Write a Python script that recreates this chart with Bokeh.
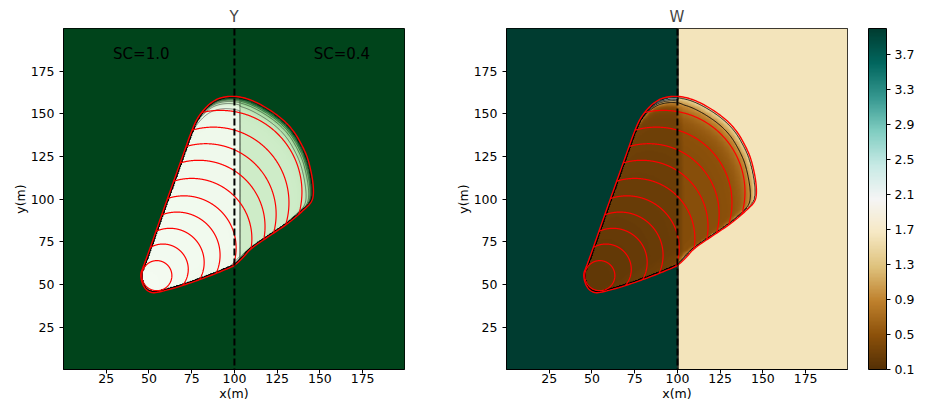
import numpy as np
from bokeh.plotting import figure
from bokeh.layouts import row
from bokeh.models import (LinearColorMapper, ColorBar, FixedTicker, Span, Label,
                          ColumnDataSource, Range1d, PrintfTickFormatter)
from bokeh.core.properties import value
from bokeh.embed import file_html
from bokeh.resources import INLINE

# ---------------- data ----------------
axis_ticks = [25, 50, 75, 100, 125, 150, 175]
cbar_ticks = [0.1, 0.5, 0.9, 1.3, 1.7, 2.1, 2.5, 2.9, 3.3, 3.7]
x_lim = (0.0, 199.5)
y_lim = (0.4, 199.9)
split_x = 100.0

# final fire perimeter (red outline), counter-clockwise
perim_x = [45.0, 45.6, 47.5, 50.5, 54.0, 68.4, 84.0, 97.6, 100.5, 105.4, 109.3, 121.0,
           132.7, 142.0, 145.3, 146.4, 145.9, 143.4, 140.2, 134.6, 127.0, 117.1, 108.0,
           99.5, 92.0, 86.5, 81.1, 76.4, 69.5, 62.1, 55.9, 49.8, 46.7]
perim_y = [56.5, 52.0, 47.8, 45.6, 45.1, 49.0, 54.5, 60.0, 61.5, 66.2, 71.0, 78.9,
           86.7, 95.0, 98.5, 103.0, 111.1, 122.8, 130.5, 140.3, 148.0, 154.6, 158.9,
           160.5, 159.6, 156.8, 151.5, 144.2, 124.7, 104.0, 86.5, 69.0, 60.5]

# red isochrones: circular fronts (centre, radius), clipped to the burnt area
iso_cx = [54.6, 58.2, 62.3, 66.4, 70.5, 75.0, 79.1, 83.2, 87.7, 91.8]
iso_cy = [55.3, 59.0, 63.0, 67.3, 71.5, 77.0, 84.0, 91.3, 98.0, 104.3]
iso_r = [8.8, 14.8, 20.0, 25.2, 30.5, 35.2, 38.8, 41.2, 44.2, 47.7]
ignition = (47.0, 50.0)
# apex of the two flanks (used for the age of the burnt cells near the final front)
apex = (41.2, 40.7)

sc_text = ["SC=1.0", "SC=0.4"]
sc_x = [45.5, 162.9]
sc_y = [185.0, 185.0]

# Y field values
Y_unburnt = 1.0
Y_resid_left = (0.02, 0.07)
Y_resid_right = 0.22
Y_split_x = 103.0
Y_levels = [0.1, 0.2, 0.3, 0.4, 0.5, 0.6, 0.7, 0.8, 0.9]

# W field values
W_unburnt_left = 4.0
W_unburnt_right = 1.62
W_resid_left = (0.18, 0.32)
W_resid_right = 0.45
W_levels = [1.0, 1.45, 2.0, 3.0]
W_lim = (0.1, 4.0)

greens = ['#f7fcf5', '#e5f5e0', '#c7e9c0', '#a1d99b', '#74c476', '#41ab5d', '#238b45', '#006d2c', '#00441b']
brbg = ['#543005', '#8c510a', '#bf812d', '#dfc27d', '#f6e8c3', '#f5f5f5', '#c7eae5', '#80cdc1',
        '#35978f', '#01665e', '#003c30']

FONT = "DejaVu Sans"
TAU_Y = 0.018
TAU_W = 0.045
INSET = 0.6


# ---------------- helpers ----------------
def interp_palette(hexes, n=256):
    rgb = np.array([[int(h[i:i + 2], 16) for i in (1, 3, 5)] for h in hexes], float)
    pos = np.linspace(0, 1, len(hexes))
    t = np.linspace(0, 1, n)
    out = np.stack([np.interp(t, pos, rgb[:, c]) for c in range(3)], 1)
    return ["#%02x%02x%02x" % tuple(int(round(v)) for v in c) for c in out]


def chaikin_closed(x, y, it=2):
    P = np.column_stack([x, y]).astype(float)
    for _ in range(it):
        N = np.roll(P, -1, 0)
        Q = 0.75 * P + 0.25 * N
        R = 0.25 * P + 0.75 * N
        P2 = np.empty((2 * len(P), 2))
        P2[0::2] = Q
        P2[1::2] = R
        P = P2
    return P[:, 0], P[:, 1]


def point_in_poly(px, py, vx, vy):
    inside = np.zeros(px.shape, bool)
    n = len(vx)
    j = n - 1
    for i in range(n):
        xi, yi, xj, yj = vx[i], vy[i], vx[j], vy[j]
        cond = (yi > py) != (yj > py)
        xint = (xj - xi) * (py - yi) / ((yj - yi) if yj != yi else 1e-12) + xi
        inside ^= cond & (px < xint)
        j = i
    return inside


def dist_to_poly(px, py, vx, vy):
    d = np.full(px.shape, np.inf)
    n = len(vx)
    for i in range(n):
        ax, ay = vx[i - 1], vy[i - 1]
        bx, by = vx[i], vy[i]
        dx, dy = bx - ax, by - ay
        t = np.clip(((px - ax) * dx + (py - ay) * dy) / (dx * dx + dy * dy), 0, 1)
        d = np.minimum(d, np.hypot(px - ax - t * dx, py - ay - t * dy))
    return d


def exit_radius(vx, vy, o, n=6001):
    phis = np.linspace(-np.pi, np.pi, n)
    dx = np.cos(phis)[:, None]
    dy = np.sin(phis)[:, None]
    ax = np.asarray(vx)[None, :]
    ay = np.asarray(vy)[None, :]
    ex = np.roll(vx, -1)[None, :] - ax
    ey = np.roll(vy, -1)[None, :] - ay
    den = dx * ey - dy * ex
    den = np.where(np.abs(den) < 1e-12, 1e-12, den)
    wx = ax - o[0]
    wy = ay - o[1]
    t = (wx * ey - wy * ex) / den
    u = (wx * dy - wy * dx) / den
    ok = (u >= 0) & (u <= 1) & (t > 0)
    Rmax = np.where(ok, t, -1.0).max(axis=1)
    Rmax[Rmax <= 0] = np.nan
    return phis, Rmax


def front_arcs(cx, cy, r, vx, vy, origin):
    th = np.linspace(0, 2 * np.pi, 1441)[:-1]
    ax = cx + r * np.cos(th)
    ay = cy + r * np.sin(th)
    keep = point_in_poly(ax, ay, vx, vy)
    if keep.mean() < 0.9:
        ux, uy = cx - origin[0], cy - origin[1]
        nrm = np.hypot(ux, uy)
        keep &= ((ax - cx) * ux + (ay - cy) * uy) / nrm >= 0
    if keep.all():
        return [list(np.append(ax, ax[0]))], [list(np.append(ay, ay[0]))]
    k = int(np.argmin(keep))
    ax, ay, keep = np.roll(ax, -k), np.roll(ay, -k), np.roll(keep, -k)
    xs, ys = [], []
    i, n = 0, len(keep)
    while i < n:
        if keep[i]:
            j = i
            while j < n and keep[j]:
                j += 1
            if j - i > 1:
                xs.append(list(ax[i:j]))
                ys.append(list(ay[i:j]))
            i = j
        else:
            i += 1
    return xs, ys


# ---------------- fields ----------------
sx, sy = chaikin_closed(perim_x, perim_y, 3)

nx = ny = 400
dw = x_lim[1] - x_lim[0]
dh = y_lim[1] - y_lim[0]
gx = x_lim[0] + (np.arange(nx) + 0.5) * dw / nx
gy = y_lim[0] + (np.arange(ny) + 0.5) * dh / ny
GX, GY = np.meshgrid(gx, gy)

inside = point_in_poly(GX, GY, sx, sy)
dEnv = dist_to_poly(GX, GY, sx, sy)
burnt = inside & (dEnv > INSET)

phis, Rex = exit_radius(sx, sy, apex)
phi_p = np.arctan2(GY - apex[1], GX - apex[0])
R_p = np.interp(phi_p, phis, Rex)
rho = np.hypot(GX - apex[0], GY - apex[1]) / R_p
rho = np.where(np.isfinite(rho), np.clip(rho, 0, 1), 0.0)

gY = np.exp(-(1.0 - rho) / TAU_Y)
gW = np.where(GX < split_x, gY, np.exp(-(1.0 - rho) / TAU_W))

resY = np.where(GX < Y_split_x, Y_resid_left[0] + (Y_resid_left[1] - Y_resid_left[0]) * rho, Y_resid_right)
Yf = np.where(burnt, resY + (Y_unburnt - resY) * gY, Y_unburnt)

W_out = np.where(GX < split_x, W_unburnt_left, W_unburnt_right)
blend = np.clip((GX - split_x) / 4.0, 0, 1)
resW = (W_resid_left[0] + (W_resid_left[1] - W_resid_left[0]) * rho) * (1 - blend) + W_resid_right * blend
Wf = np.where(burnt, resW + (W_out - resW) * gW, W_out)

arc_xs, arc_ys = [], []
for cx, cy, r in zip(iso_cx, iso_cy, iso_r):
    a, b = front_arcs(cx, cy, r, sx, sy, ignition)
    arc_xs += a
    arc_ys += b

arc_src = ColumnDataSource(dict(xs=arc_xs, ys=arc_ys))
perim_src = ColumnDataSource(dict(x=list(np.append(sx, sx[0])), y=list(np.append(sy, sy[0]))))
sc_src = ColumnDataSource(dict(x=sc_x, y=sc_y, text=sc_text))

ymap = LinearColorMapper(palette=interp_palette(greens), low=0.0, high=1.0)
wmap = LinearColorMapper(palette=interp_palette(brbg), low=W_lim[0], high=W_lim[1])


def make_fig(title, right_border):
    p = figure(output_backend="svg", toolbar_location=None,
               frame_width=341, frame_height=341,
               x_range=Range1d(*x_lim), y_range=Range1d(*y_lim),
               min_border_left=63, min_border_right=right_border,
               min_border_top=28, min_border_bottom=44,
               title=title)
    p.title.text_font = FONT
    p.title.text_font_size = "15px"
    p.title.text_font_style = "normal"
    p.title.align = "center"
    p.title.standoff = 6
    p.title.offset = 0
    p.grid.visible = False
    p.outline_line_color = "black"
    p.outline_line_width = 1
    p.background_fill_color = "white"
    p.border_fill_color = "white"
    for ax in (p.xaxis[0], p.yaxis[0]):
        ax.ticker = FixedTicker(ticks=axis_ticks)
        ax.major_tick_in = 0
        ax.major_tick_out = 4
        ax.minor_tick_line_color = None
        ax.major_tick_line_color = "black"
        ax.axis_line_color = "black"
        ax.major_label_text_font = FONT
        ax.major_label_text_font_size = "12.5px"
        ax.major_label_text_color = "black"
        ax.axis_label_text_font = FONT
        ax.axis_label_text_font_size = "12.5px"
        ax.axis_label_text_font_style = "normal"
        ax.axis_label_text_color = "black"
        ax.axis_label_standoff = 0
    p.xaxis.major_label_standoff = 0
    p.yaxis.major_label_standoff = 5
    p.xaxis.axis_label = "x(m)"
    p.yaxis.axis_label = "y(m)"
    return p


# ---------------- left: Y ----------------
p1 = make_fig("Y", 39)
p1.image(image=[Yf], x=x_lim[0], y=y_lim[0], dw=dw, dh=dh, color_mapper=ymap)
p1.contour(gx, gy, Yf, levels=Y_levels, line_color="black", line_width=0.5, line_alpha=0.85)
p1.multi_line(xs="xs", ys="ys", source=arc_src, line_color="red", line_width=1.2)
p1.line(x="x", y="y", source=perim_src, line_color="red", line_width=1.4)
p1.add_layout(Span(location=split_x, dimension="height", line_color="black",
                   line_width=2, line_dash="7 3"))
p1.text(x="x", y="y", text="text", source=sc_src, text_font=value(FONT),
        text_font_size="15px", text_align="center", text_baseline="middle", text_color="black")

# ---------------- right: W ----------------
p2 = make_fig("W", 91)
p2.image(image=[Wf], x=x_lim[0], y=y_lim[0], dw=dw, dh=dh, color_mapper=wmap)
p2.contour(gx, gy, Wf, levels=W_levels, line_color="black", line_width=0.9)
p2.multi_line(xs="xs", ys="ys", source=arc_src, line_color="red", line_width=1.2)
p2.line(x="x", y="y", source=perim_src, line_color="red", line_width=1.4)
p2.add_layout(Span(location=split_x, dimension="height", line_color="black",
                   line_width=2, line_dash="7 3"))

cb = ColorBar(color_mapper=wmap, ticker=FixedTicker(ticks=cbar_ticks),
              formatter=PrintfTickFormatter(format="%.1f"),
              width=18, height=341, padding=0, margin=0, location=(362, 0),
              bar_line_color="black", bar_line_width=1,
              major_tick_in=0, major_tick_out=4, major_tick_line_color="black",
              minor_tick_line_color=None, label_standoff=4,
              major_label_text_font=FONT, major_label_text_font_size="12.5px",
              major_label_text_color="black",
              border_line_color=None, background_fill_color=None)
p2.add_layout(cb, "center")
p2.add_layout(Label(x=247.9, y=100.5, text="W(kg/m²)", angle=np.pi / 2,
                    text_font=FONT, text_font_size="12.5px", text_align="center",
                    text_baseline="middle", text_color="black"))

layout = row(p1, p2)
open("out.html", "w").write(file_html(layout, INLINE))
